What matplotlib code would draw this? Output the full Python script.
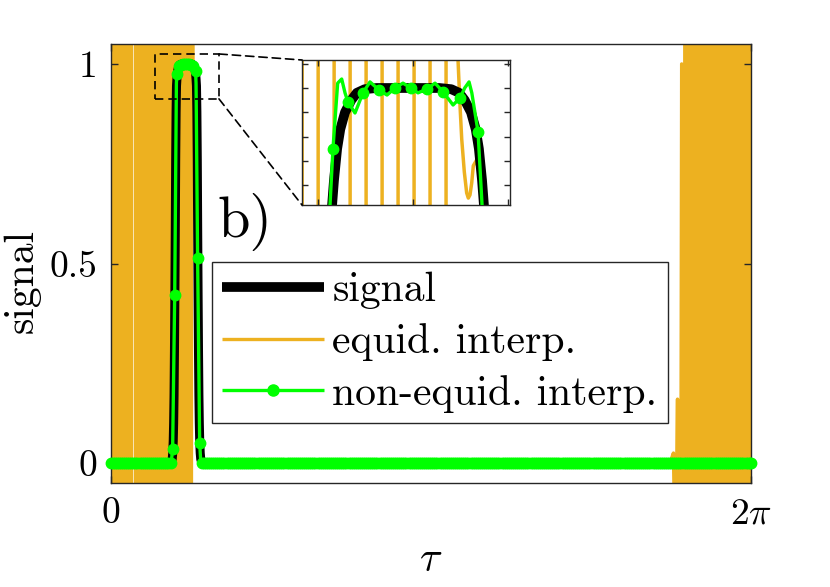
import numpy as np
import matplotlib
matplotlib.use('Agg')
import matplotlib.pyplot as plt
from matplotlib.lines import Line2D
from matplotlib.patches import Rectangle, ConnectionPatch

plt.rcParams['mathtext.fontset'] = 'cm'
plt.rcParams['font.family'] = 'cmr10'
plt.rcParams['axes.formatter.use_mathtext'] = True

ORANGE = '#EDB120'
GREEN = '#00FF00'
DARK = '#262626'

TAU0 = 0.741              # centre of the pulse
TWO_PI = 2 * np.pi

# signal: half of the symmetric pulse (offset from centre, value)
sig_offset = [0.0, 0.040, 0.055, 0.065, 0.072, 0.080, 0.086, 0.090, 0.094, 0.098,
              0.102, 0.106, 0.110, 0.114, 0.118, 0.122, 0.126, 0.130, 0.135, 0.140,
              0.150, 0.160]
sig_value = [1.0, 1.0, 0.9995, 0.998, 0.995, 0.990, 0.983, 0.975, 0.962, 0.945,
             0.88, 0.76, 0.58, 0.42, 0.28, 0.17, 0.10, 0.055, 0.025, 0.010,
             0.002, 0.0]

# non-equidistant interpolant around the pulse (offset from centre, value)
interp_offset = [-0.160, -0.150, -0.1359, -0.1156, -0.099, -0.0953, -0.0893, -0.0842,
                 -0.0800, -0.0762, -0.0673, -0.0572, -0.0483, -0.0368, -0.0267, -0.0165,
                 -0.0064, 0.0038, 0.0127, 0.0241, 0.0343, 0.0445, 0.0572, 0.066,
                 0.0720, 0.0775, 0.0810, 0.0889, 0.094, 0.1092, 0.1295, 0.140, 0.150]
interp_value = [0.0, 0.001, 0.035, 0.42, 0.952, 0.975, 1.002, 1.0037,
                0.998, 0.9942, 0.9897, 0.998, 1.0025, 0.9992, 0.9971, 1.0,
                1.002, 1.0, 0.998, 0.9996, 1.002, 0.9984, 0.993, 0.9959,
                1.000, 1.0025, 0.998, 0.982, 0.952, 0.515, 0.05, 0.004, 0.0]

# interpolation nodes on the pulse (offset from centre, value)
node_offset = [-0.1359, -0.1156, -0.0953, -0.0762, -0.0572, -0.0368, -0.0165, 0.0038,
               0.0241, 0.0445, 0.066, 0.0889, 0.1092, 0.1295]
node_value = [0.035, 0.42, 0.975, 0.9942, 0.998, 0.9992, 1.0, 1.0,
              0.9996, 0.9984, 0.9959, 0.982, 0.515, 0.05]
NODE_STEP = 0.0203        # node spacing on the flat part

# equidistant interpolant: off-scale swings at both ends
EQUID_STEP = 0.0203
EQUID_OFFSCALE = 1e3
u_offset = [0.0635, 0.066, 0.0682, 0.0715, 0.0745, 0.0766, 0.0787, 0.0809, 0.0829, 0.090]
u_value = [1.0115, 0.993, 0.979, 0.9654, 0.9568, 0.9547, 0.956, 0.961, 0.968, 0.972]
equid_right_tau = [5.40, 5.461, 5.481, 5.5015, 5.522, 5.543, 5.562, 5.583, 5.603]
equid_right_val = [0.0, 0.003, -0.006, 0.01, 0.025, -0.3, 0.16, -2.0, 1.0]

labels = ['signal', 'equid. interp.', 'non-equid. interp.']


def build_signal():
    off = np.array(sig_offset)
    val = np.array(sig_value)
    tau = np.concatenate([[0.0], TAU0 - off[::-1], TAU0 + off[1:], [TWO_PI]])
    v = np.concatenate([[0.0], val[::-1], val[1:], [0.0]])
    return tau, v


def build_interp():
    tau = np.concatenate([[0.0], TAU0 + np.array(interp_offset), [TWO_PI]])
    v = np.concatenate([[0.0], interp_value, [0.0]])
    return tau, v


def build_nodes():
    left = np.arange(TAU0 + node_offset[0] - NODE_STEP, 0, -NODE_STEP)[::-1]
    right = np.arange(TAU0 + node_offset[-1] + NODE_STEP, TWO_PI, NODE_STEP)
    tau = np.concatenate([[0.0], left, TAU0 + np.array(node_offset), right, [TWO_PI]])
    v = np.concatenate([np.zeros(len(left) + 1), node_value, np.zeros(len(right) + 1)])
    return tau, v


def build_equid():
    n = 41
    left_d = 0.05845 - EQUID_STEP * np.arange(n)
    sign = np.where(np.arange(n) % 2 == 0, 1.0, -1.0)
    sign[29:] *= -1          # no swing near tau = 0.22 -> thin white gap
    left_tau = (TAU0 + left_d)[::-1]
    left_val = (EQUID_OFFSCALE * sign)[::-1]
    u_tau = TAU0 + np.array(u_offset)
    tail = np.array(sig_offset) > 0.093
    tail_tau = TAU0 + np.array(sig_offset)[tail]
    tail_val = np.array(sig_value)[tail]
    far_tau = np.arange(equid_right_tau[-1] + EQUID_STEP, TWO_PI + 0.03, EQUID_STEP)
    far_val = EQUID_OFFSCALE * np.where(np.arange(len(far_tau)) % 2 == 0, -1.0, 1.0)
    tau = np.concatenate([left_tau, u_tau, tail_tau, equid_right_tau, far_tau])
    v = np.concatenate([left_val, u_value, tail_val, equid_right_val, far_val])
    return tau, v


sig_tau, sig_v = build_signal()
int_tau, int_v = build_interp()
nod_tau, nod_v = build_nodes()
eq_tau, eq_v = build_equid()

fig = plt.figure(figsize=(8.3, 5.87), dpi=100)
ax = fig.add_axes([111 / 830, 1 - 483 / 587, 640 / 830, 439 / 587])


def draw_curves(a, clip_markers, lw_black):
    a.plot(eq_tau, eq_v, color=ORANGE, lw=2.5, zorder=1)
    a.plot(sig_tau, sig_v, color='black', lw=lw_black, solid_capstyle='butt', zorder=2)
    a.plot(int_tau, int_v, color=GREEN, lw=2.4, zorder=3, clip_on=clip_markers)
    a.plot(nod_tau, nod_v, ls='none', marker='o', ms=7.5, mfc=GREEN, mec=GREEN,
           zorder=4, clip_on=clip_markers)


draw_curves(ax, False, 6.5)
ax.set_xlim(0, TWO_PI)
ax.set_ylim(-0.05, 1.05)
ax.set_xticks([0, TWO_PI])
ax.set_xticklabels(['0', r'$2\pi$'])
ax.set_yticks([0, 0.5, 1])
ax.set_yticklabels(['0', '0.5', '1'])
ax.tick_params(direction='in', length=5, width=1, top=True, right=True,
               labelsize=27, colors=DARK, labelcolor='black', pad=10)
for s in ax.spines.values():
    s.set_color(DARK)
    s.set_linewidth(1.0)
ax.set_xlabel(r'$\tau$', fontsize=30, labelpad=8)
ax.set_ylabel('signal', fontsize=30, labelpad=6, y=0.46)
ax.text(0.167, 0.56, 'b)', transform=ax.transAxes, fontsize=42, va='baseline')

handles = [Line2D([], [], color='black', lw=7, solid_capstyle='butt'),
           Line2D([], [], color=ORANGE, lw=2.4, solid_capstyle='butt'),
           Line2D([], [], color=GREEN, lw=2.4, marker='o', ms=8, solid_capstyle='butt')]
leg = ax.legend(handles, labels,
                loc='upper left', bbox_to_anchor=(0.1578, 0.5034),
                borderaxespad=0, fontsize=30, handlelength=2.45,
                handletextpad=0.2, borderpad=0.24, labelspacing=0.33,
                fancybox=False, framealpha=1, edgecolor=DARK)
leg.get_frame().set_linewidth(1.0)

# zoom box and inset
rx0, rx1 = (155 - 111) / 101.9, (219 - 111) / 101.9
ry0, ry1 = 0.9125, 1.025
ax.add_patch(Rectangle((rx0, ry0), rx1 - rx0, ry1 - ry0, fill=False, ls=(0, (5, 3)),
                       lw=1.2, color='black', zorder=6, clip_on=False))

ins = fig.add_axes([302 / 830, 1 - 205 / 587, 208 / 830, 145 / 587])
draw_curves(ins, True, 7)
ins.set_xlim(TAU0 - 0.1346, TAU0 + 0.1295)
ins.set_ylim(0.95185, 1.01152)
ins.set_xticks(TAU0 + np.array([-0.1143, 0.0064, 0.127]))
ins.set_yticks([0.96, 0.97, 0.98, 0.99, 1.0, 1.01])
ins.tick_params(direction='in', length=4, width=1, top=True, right=True,
                labelbottom=False, labelleft=False, colors=DARK)
for s in ins.spines.values():
    s.set_color(DARK)
    s.set_linewidth(1.0)

for yA, yB in [(ry1, 1), (ry0, 0)]:
    con = ConnectionPatch(xyA=(rx1, yA), coordsA=ax.transData, xyB=(0, yB),
                          coordsB=ins.transAxes, color='black', lw=1.2, ls=(0, (5, 3)))
    fig.add_artist(con)

fig.savefig('out.png', dpi=100)
